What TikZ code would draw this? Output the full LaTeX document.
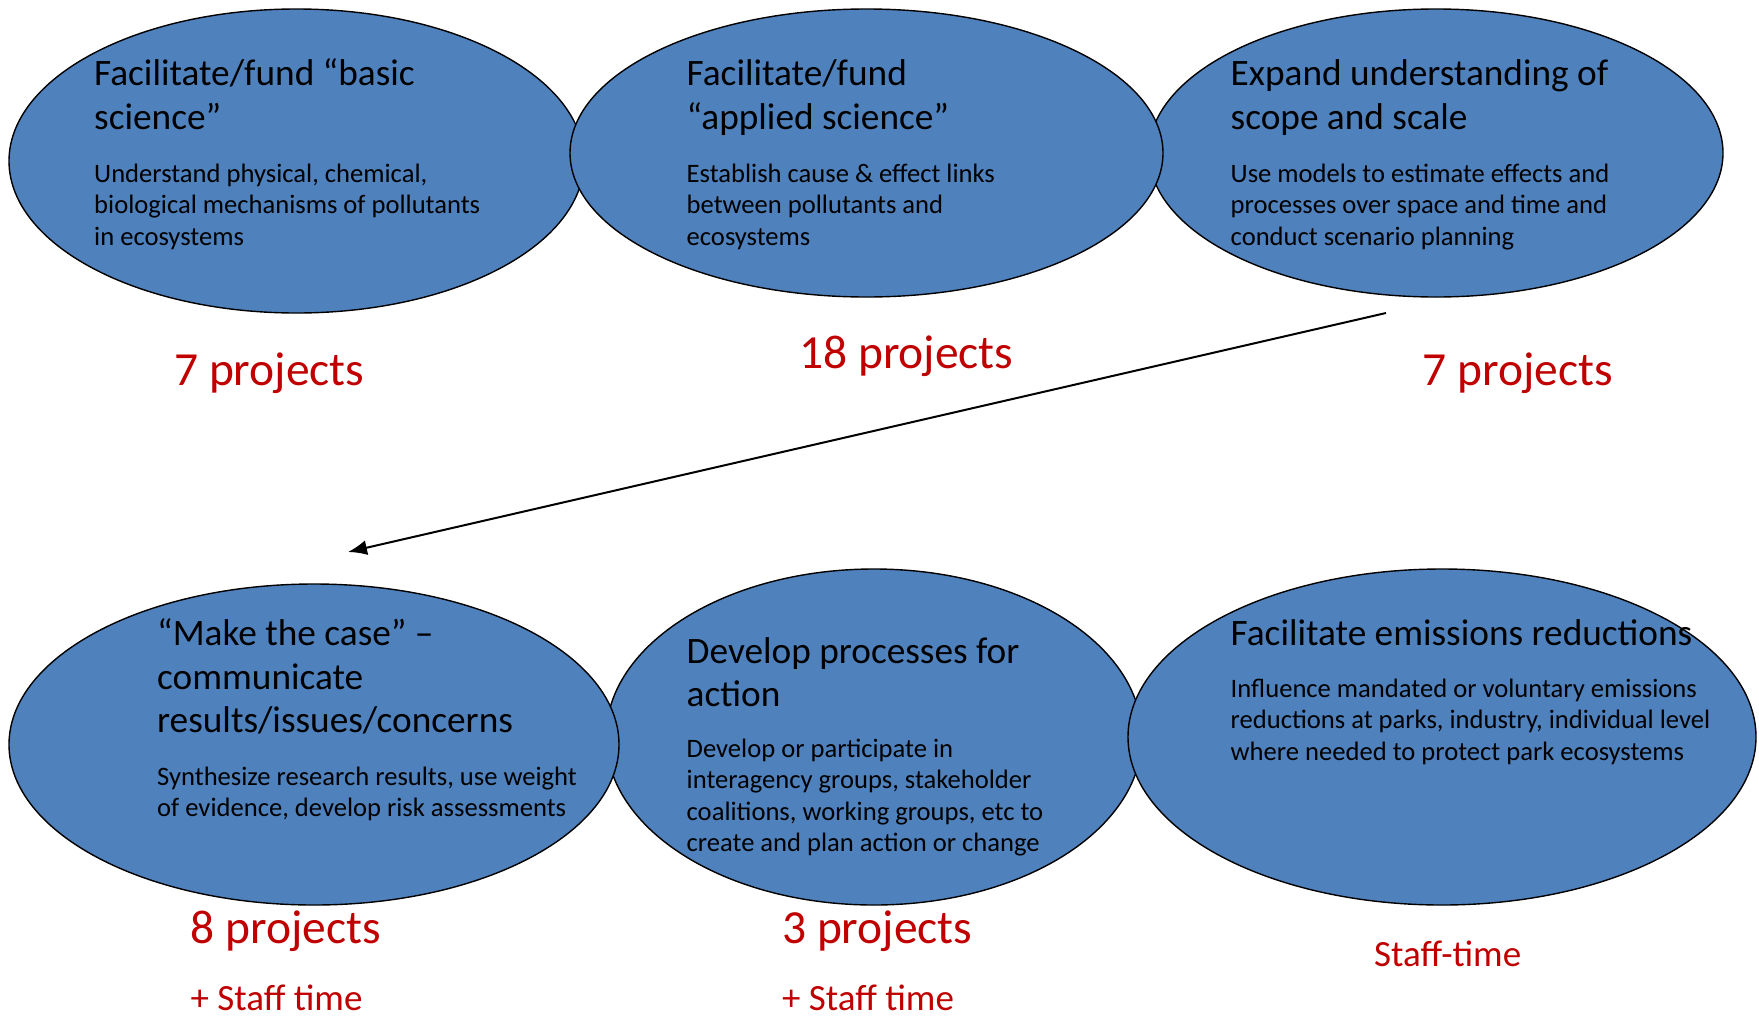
\documentclass[tikz,border=0pt]{standalone}
\usepackage{fontspec}
\setmainfont{Carlito}
\usetikzlibrary{arrows.meta,shapes.geometric}
\definecolor{ovalblue}{HTML}{4F81BD}
\definecolor{countred}{HTML}{C00000}
% stack of lines whose baseline is the first line's baseline
\newcommand\linestack[1]{\vtop{#1}}
\newcommand\oneline[1]{\hbox{#1}}
\tikzset{
  oval/.style={ellipse, draw=black, line width=1.4pt, fill=ovalblue, inner sep=0pt},
  ovaltitle/.style={anchor=base west, inner sep=0pt, font=\fontsize{37.3}{43.5}\selectfont},
  ovalbody/.style={anchor=base west, inner sep=0pt, font=\fontsize{26.6}{31.5}\selectfont},
  count/.style={anchor=base west, inner sep=0pt, text=countred, font=\fontsize{47.5}{52}\selectfont},
  staff/.style={anchor=base west, inner sep=0pt, text=countred, font=\fontsize{37}{40}\selectfont},
  flow/.style={line width=2pt, -{Latex[length=19pt,width=15pt]}}
}
\begin{document}
\begin{tikzpicture}[x=1pt,y=-1pt]
\useasboundingbox (0,0) rectangle (1759,1015);

% top row of ovals
\node[oval, minimum width=575pt, minimum height=304pt] (basic) at (296.5,161) {};
\node[oval, minimum width=574pt, minimum height=288pt] (scope) at (1436,153) {};
\node[oval, minimum width=593pt, minimum height=288pt] (applied) at (866.5,153) {};

% bottom row of ovals
\node[oval, minimum width=536pt, minimum height=336pt] (process) at (874,737) {};
\node[oval, minimum width=610pt, minimum height=321pt] (makecase) at (314,744.5) {};
\node[oval, minimum width=628pt, minimum height=336pt] (emission) at (1442,737) {};

% texts in the top ovals
\node[ovaltitle] (basicT) at (94,85.5) {\linestack{\oneline{Facilitate/fund “basic}\oneline{science”}}};
\node[ovalbody] (basicB) at (94,182) {\linestack{\oneline{Understand physical, chemical,}\oneline{biological mechanisms of pollutants}\oneline{in ecosystems}}};

\node[ovaltitle] (appliedT) at (686.5,85.5) {\linestack{\oneline{Facilitate/fund}\oneline{“applied science”}}};
\node[ovalbody] (appliedB) at (686.5,182) {\linestack{\oneline{Establish cause \& effect links}\oneline{between pollutants and}\oneline{ecosystems}}};

\node[ovaltitle] (scopeT) at (1230.5,85.5) {\linestack{\oneline{Expand understanding of}\oneline{scope and scale}}};
\node[ovalbody] (scopeB) at (1230.5,182) {\linestack{\oneline{Use models to estimate effects and}\oneline{processes over space and time and}\oneline{conduct scenario planning}}};

% texts in the bottom ovals
\node[ovaltitle] (makecaseT) at (157,645.5) {\linestack{\oneline{“Make the case” –}\oneline{communicate}\oneline{results/issues/concerns}}};
\node[ovalbody] (makecaseB) at (157,785) {\linestack{\oneline{Synthesize research results, use weight}\oneline{of evidence, develop risk assessments}}};

\node[ovaltitle] (processT) at (686.5,663) {\linestack{\oneline{Develop processes for}\oneline{action}}};
\node[ovalbody] (processB) at (686.5,757) {\linestack{\oneline{Develop or participate in}\oneline{interagency groups, stakeholder}\oneline{coalitions, working groups, etc to}\oneline{create and plan action or change}}};

\node[ovaltitle] (emissionT) at (1230.5,645.5) {Facilitate emissions reductions};
\node[ovalbody] (emissionB) at (1230.5,697) {\linestack{\oneline{Influence mandated or voluntary emissions}\oneline{reductions at parks, industry, individual level}\oneline{where needed to protect park ecosystems}}};

% project counts
\node[count] (basicN) at (174,385) {7 projects};
\node[count] (appliedN) at (799,368) {18 projects};
\node[count] (scopeN) at (1422.5,385) {7 projects};
\node[count] (makecaseN) at (190.5,943) {8 projects};
\node[count] (processN) at (782,943) {3 projects};
\node[staff] (makecaseS) at (190.5,1010) {+ Staff time};
\node[staff] (processS) at (782,1010) {+ Staff time};
\node[staff] (emissionS) at (1374,966) {Staff-time};

% link from the top row to the bottom row
\coordinate (flowstart) at (1386,313);
\coordinate (flowend) at (348,552);
\draw[flow] (flowstart) -- (flowend);
\end{tikzpicture}
\end{document}
